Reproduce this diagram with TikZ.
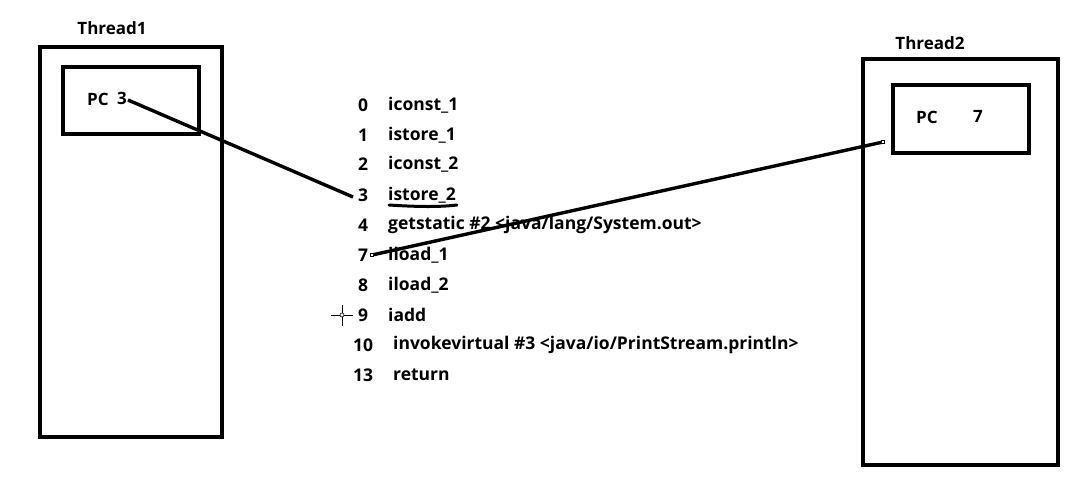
\documentclass[tikz,border=0pt]{standalone}
\usepackage{fontspec}
\setmainfont{Open Sans}
\begin{document}
\begin{tikzpicture}[x=1pt,y=-1pt,
  box/.style={line width=3.4pt},
  link/.style={line width=3.4pt},
  lbl/.style={font=\fontsize{17}{20}\selectfont\bfseries, inner sep=0pt},
  code/.style={font=\fontsize{17.5}{20}\selectfont\bfseries, inner sep=0pt, anchor=west},
  num/.style={font=\fontsize{17.5}{20}\selectfont\bfseries, inner sep=0pt, anchor=center},
  handle/.style={draw, line width=0.5pt, fill=white, minimum size=3pt, inner sep=0pt}]
\useasboundingbox[fill=white] (0,0) rectangle (1088,480);
% Thread1
\draw[box] (40,47) rectangle (222,437);
\draw[box] (63,67) rectangle (199,134);
\node[lbl] (t1) at (112,28) {Thread1};
\node[lbl, anchor=west] (pc1) at (87,99) {PC};
\node[lbl] (pc1v) at (122,98) {3};
% Thread2
\draw[box] (863,59) rectangle (1058,465);
\draw[box] (893,85) rectangle (1029,153);
\node[lbl] (t2) at (930,43) {Thread2};
\node[lbl, anchor=west] (pc2) at (916,117) {PC};
\node[lbl] (pc2v) at (978,116) {7};
% bytecode
\node[num] (n0) at (363,105) {0};   \node[code] (c0) at (388,105) {iconst\_1};
\node[num] (n1) at (363,135) {1};   \node[code] (c1) at (388,135) {istore\_1};
\node[num] (n2) at (363,164) {2};   \node[code] (c2) at (388,164) {iconst\_2};
\node[num] (n3) at (363,195) {3};   \node[code] (c3) at (388,195) {istore\_2};
\node[num] (n4) at (363,225) {4};   \node[code] (c4) at (388,225) {getstatic \#2 <java/lang/System.out>};
\node[num] (n7) at (363,255) {7};   \node[code] (c7) at (388,255) {iload\_1};
\node[num] (n8) at (363,285) {8};   \node[code] (c8) at (388,285) {iload\_2};
\node[num] (n9) at (363,315) {9};   \node[code] (c9) at (388,315) {iadd};
\node[num] (n10) at (363,345) {10}; \node[code] (c10) at (393,345) {invokevirtual \#3 <java/io/PrintStream.println>};
\node[num] (n13) at (363,375) {13}; \node[code] (c13) at (393,375) {return};
% underline of istore_2
\draw[line width=3pt, line cap=round] (389,205) .. controls (420,207) and (440,207) .. (457,205);
% cursor
\draw[line width=0.6pt] (331,315) -- (353,315) (342,305) -- (342,326);
\draw[line width=0.6pt, fill=white] (342,315) circle (2);
% connectors
\coordinate (s1) at (128,100);
\coordinate (e1) at (353,197);
\draw[link] (s1) -- (e1);
\coordinate (s2) at (372,255);
\coordinate (e2) at (883,142);
\draw[link] (s2) -- (e2);
\node[handle] (h1) at (s2) {};
\node[handle] (h2) at (e2) {};
\end{tikzpicture}
\end{document}
